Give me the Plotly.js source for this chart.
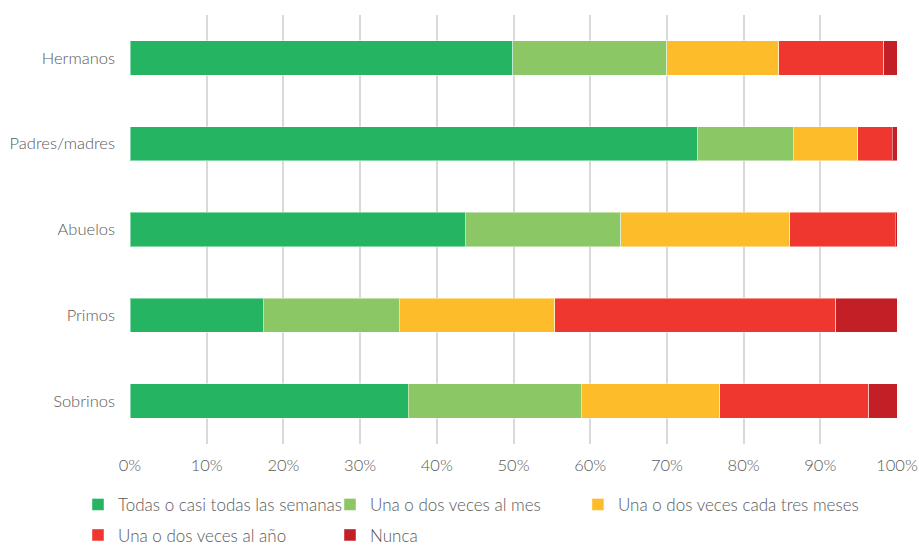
<!DOCTYPE html>
<html>
<head>
<meta charset="utf-8">
<script src="https://cdn.plot.ly/plotly-3.0.1.min.js"></script>
<style>html,body{margin:0;padding:0;background:#fff;}#chart{width:919px;height:545px;}</style>
</head>
<body>
<div id="chart"></div>
<script>
const categories = ["Hermanos", "Padres/madres", "Abuelos", "Primos", "Sobrinos"];
const seriesNames = ["Todas o casi todas las semanas", "Una o dos veces al mes", "Una o dos veces cada tres meses", "Una o dos veces al año", "Nunca"];
const semanal   = [0.499, 0.740, 0.437, 0.174, 0.363];
const mensual   = [0.201, 0.125, 0.203, 0.177, 0.225];
const trimestral = [0.146, 0.084, 0.220, 0.203, 0.181];
const anual     = [0.137, 0.045, 0.138, 0.366, 0.194];
const nunca     = [0.017, 0.006, 0.002, 0.080, 0.037];
const colors = ["#25b462", "#8cc765", "#fdbd2a", "#ef3730", "#c21f27"];
const xTickVals = [0, 0.1, 0.2, 0.3, 0.4, 0.5, 0.6, 0.7, 0.8, 0.9, 1.0];
const xTickText = ["0%", "10%", "20%", "30%", "40%", "50%", "60%", "70%", "80%", "90%", "100%"];

const values = [semanal, mensual, trimestral, anual, nunca];
const legendOf = ["legend", "legend", "legend3", "legend2", "legend2"];
const font = "Lato, 'Open Sans', sans-serif";
const traces = values.map((v, i) => ({
  type: "bar",
  orientation: "h",
  name: seriesNames[i],
  y: categories,
  x: v,
  legend: legendOf[i],
  marker: { color: colors[i], line: { color: "rgba(255,255,255,0.45)", width: 1 } },
  hoverinfo: "skip"
}));

const legendFont = { family: font, size: 17, color: "#595959", weight: 300 };
const legendBase = {
  orientation: "h",
  x: -0.0678, xanchor: "left",
  yanchor: "top",
  entrywidth: 207, entrywidthmode: "pixels",
  itemwidth: 30,
  traceorder: "normal",
  bgcolor: "rgba(0,0,0,0)",
  font: legendFont
};

const layout = {
  width: 919, height: 545,
  margin: { l: 130, r: 22, t: 15, b: 101, autoexpand: false },
  barmode: "stack",
  bargap: 0.6,
  paper_bgcolor: "#ffffff",
  plot_bgcolor: "#ffffff",
  font: { family: font, size: 16.5, color: "#595959", weight: 300 },
  xaxis: {
    range: [0, 1.0],
    tickvals: xTickVals,
    ticktext: xTickText,
    showgrid: true,
    gridcolor: "#d9d9d9",
    gridwidth: 2,
    zeroline: false,
    showline: false,
    ticks: "",
    ticklabelstandoff: 9,
    fixedrange: true
  },
  yaxis: {
    autorange: "reversed",
    showgrid: false,
    zeroline: false,
    showline: false,
    ticks: "",
    ticklabelstandoff: 14,
    fixedrange: true
  },
  showlegend: true,
  legend: Object.assign({}, legendBase, { y: -0.100 }),
  legend3: { orientation: "h", x: 0.584, xanchor: "left", yanchor: "top", y: -0.100,
             itemwidth: 30, bgcolor: "rgba(0,0,0,0)", font: legendFont },
  legend2: Object.assign({}, legendBase, { y: -0.171 })
};

Plotly.newPlot("chart", traces, layout, { displayModeBar: false, staticPlot: true });
</script>
</body>
</html>
